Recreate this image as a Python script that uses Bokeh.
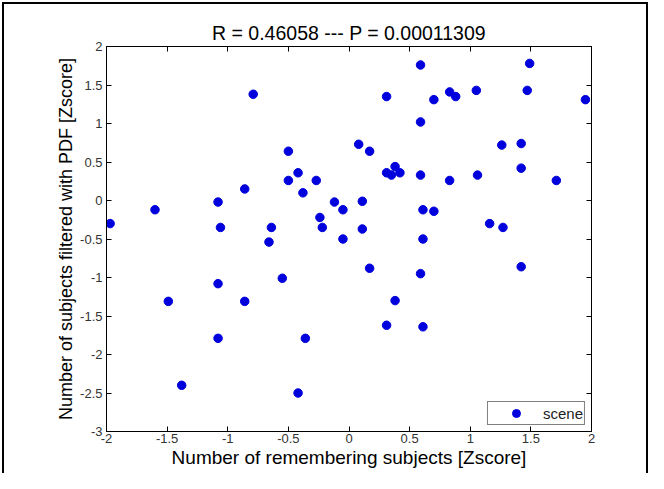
from bokeh.plotting import figure
from bokeh.models import (Range1d, FixedTicker, LinearAxis, CustomJSTickFormatter)
from bokeh.embed import file_html
from bokeh.resources import INLINE

title_text = "R = 0.46058 --- P = 0.00011309"
x_label = "Number of remembering subjects [Zscore]"
y_label = "Number of subjects filtered with PDF [Zscore]"
series_name = "scene"

x_ticks = [-2, -1.5, -1, -0.5, 0, 0.5, 1, 1.5, 2]
y_ticks = [-3, -2.5, -2, -1.5, -1, -0.5, 0, 0.5, 1, 1.5, 2]

remembering_z = [
    -1.97, -1.60, -1.49, -1.38, -1.08, -1.06, -1.08, -1.08, -0.86, -0.86,
    -0.79, -0.66, -0.64, -0.55, -0.50, -0.50, -0.42, -0.42, -0.38, -0.36,
    -0.27, -0.24, -0.22, -0.12, -0.05, -0.05, 0.08, 0.11, 0.11, 0.17,
    0.17, 0.31, 0.31, 0.35, 0.38, 0.42, 0.31, 0.38, 0.59, 0.59,
    0.59, 0.61, 0.61, 0.59, 0.61, 0.70, 0.70, 0.83, 0.88, 0.83,
    1.05, 1.06, 1.16, 1.26, 1.27, 1.42, 1.42, 1.42, 1.47, 1.49,
    1.71, 1.95,
]
pdf_filtered_z = [
    -0.30, -0.12, -1.31, -2.40, -0.02, -0.35, -1.08, -1.79, 0.15, -1.31,
    1.38, -0.54, -0.35, -1.01, 0.64, 0.26, 0.36, -2.50, 0.10, -1.79,
    0.26, -0.22, -0.35, -0.02, -0.12, -0.50, 0.73, -0.01, -0.37, 0.64,
    -0.88, 1.35, 0.36, 0.33, 0.44, 0.36, -1.62, -1.30, 1.76, 1.02,
    0.33, -0.12, -0.50, -0.95, -1.64, 1.31, -0.14, 1.41, 1.35, 0.26,
    1.43, 0.33, -0.30, 0.72, -0.35, 0.74, 0.42, -0.86, 1.43, 1.78,
    0.26, 1.31,
]

FONT = "Liberation Sans"
DOT = "#0000dd"

p = figure(width=648, height=473, output_backend="svg", toolbar_location=None,
           x_range=Range1d(-2, 2), y_range=Range1d(-3, 2),
           min_border_left=106, min_border_right=57,
           min_border_top=46, min_border_bottom=42)

p.xgrid.grid_line_color = None
p.ygrid.grid_line_color = None
p.outline_line_color = "black"
p.background_fill_color = "white"
p.border_fill_color = None
p.styles = {"box-shadow": "inset 2px 2px 0 0 #ffffff, inset 4px 4px 0 0 #000000, inset -2px 0 0 0 #000000"}

fmt_code = "return String(tick);"

for ax, ticks in ((p.xaxis[0], x_ticks), (p.yaxis[0], y_ticks)):
    ax.ticker = FixedTicker(ticks=ticks)
    ax.formatter = CustomJSTickFormatter(code=fmt_code)
    ax.major_tick_in = 5
    ax.major_tick_out = 0
    ax.minor_tick_line_color = None
    ax.axis_line_color = "black"
    ax.major_tick_line_color = "black"
    ax.major_label_text_font = FONT
    ax.major_label_text_font_size = "13px"
    ax.major_label_text_color = "#333333"
    ax.axis_label_text_font = FONT
    ax.axis_label_text_font_style = "normal"
    ax.axis_label_text_color = "black"

p.xaxis[0].axis_label = x_label
p.yaxis[0].axis_label = y_label
p.xaxis[0].axis_label_text_font_size = "19px"
p.yaxis[0].axis_label_text_font_size = "18px"
p.xaxis[0].major_label_standoff = 2
p.yaxis[0].major_label_standoff = 4
p.xaxis[0].axis_label_standoff = 1
p.yaxis[0].axis_label_standoff = 1

# box axes (ticks only); the top one carries the chart title as its label
top_axis = None
for loc, ticks in (("right", y_ticks), ("above", x_ticks)):
    ax = LinearAxis(ticker=FixedTicker(ticks=ticks),
                    formatter=CustomJSTickFormatter(code="return '';"),
                    major_tick_in=5, major_tick_out=0,
                    minor_tick_line_color=None,
                    major_label_text_font_size="0px",
                    major_label_standoff=0,
                    axis_line_color="black", major_tick_line_color="black")
    p.add_layout(ax, loc)
    if loc == "above":
        top_axis = ax

top_axis.axis_label = title_text
top_axis.axis_label_text_font = FONT
top_axis.axis_label_text_font_size = "19.5px"
top_axis.axis_label_text_font_style = "normal"
top_axis.axis_label_text_color = "black"
top_axis.axis_label_standoff = 3

p.scatter(remembering_z, pdf_filtered_z, size=8.5, marker="circle",
          fill_color=DOT, line_color=DOT, legend_label=series_name)

lg = p.legend[0]
lg.location = "bottom_right"
lg.margin = 6
lg.padding = 1
lg.spacing = 0
lg.glyph_width = 54
lg.glyph_height = 20
lg.label_height = 20
lg.label_standoff = 0
lg.label_text_font = FONT
lg.label_text_font_size = "15px"
lg.label_text_color = "#222222"
lg.border_line_color = "black"
lg.border_line_width = 1
lg.background_fill_color = "white"
lg.background_fill_alpha = 1.0

open("out.html", "w").write(file_html(p, INLINE))
